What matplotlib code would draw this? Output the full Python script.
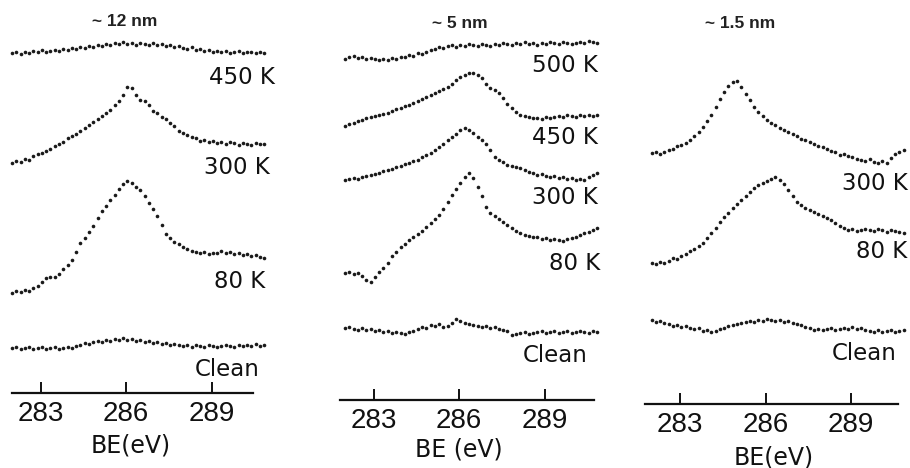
import numpy as np
import matplotlib
matplotlib.use("Agg")
import matplotlib.pyplot as plt
from matplotlib import font_manager
from matplotlib.transforms import offset_copy

# binding energy grid of the scans (eV)
be = np.round(np.arange(282.0, 290.9, 0.15), 2)

# ~12 nm film, intensity above each trace's own baseline (arb. units)
p12_450 = [0, 1, -1, 1, 0, 2, 1, 3, 1, 2,
           3, 2, 4, 3, 5, 4, 6, 5, 7, 6,
           8, 7, 9, 8, 10, 9, 11, 9, 10, 8,
           10, 9, 8, 10, 8, 9, 7, 8, 6, 7,
           5, 4, 6, 3, 4, 2, 3, 1, 2, 1,
           2, 0, 1, 2, 0, 1, 1, 0, 1, 0]
p12_300 = [0, 2, 1, 4, 3, 7, 9, 10, 12, 14,
           17, 19, 21, 25, 27, 29, 32, 35, 38, 41,
           44, 47, 50, 53, 58, 62, 68, 76, 75, 68,
           63, 62, 58, 52, 50, 46, 44, 40, 37, 32,
           30, 28, 26, 25, 22, 23, 21, 22, 20, 21,
           19, 21, 20, 18, 20, 19, 18, 20, 19, 19]
p12_80 = [0, 2, 1, 3, 2, 5, 7, 11, 15, 16,
          16, 19, 24, 28, 33, 41, 50, 55, 61, 67,
          75, 82, 87, 93, 98, 104, 109, 112, 110, 106,
          103, 97, 90, 84, 77, 68, 59, 55, 51, 49,
          46, 44, 42, 41, 40, 41, 39, 40, 40, 42,
          40, 41, 39, 40, 38, 39, 37, 38, 36, 35]
p12_clean = [0, 1, -1, 0, 1, -1, 0, 1, -1, 0,
             1, -1, 0, 1, 0, 2, 3, 5, 4, 6,
             7, 6, 8, 7, 9, 8, 10, 8, 9, 7,
             8, 6, 7, 5, 6, 4, 5, 3, 4, 3,
             2, 3, 1, 3, 2, 1, 3, 2, 1, 2,
             3, 2, 1, 3, 2, 3, 2, 4, 2, 3]

# ~5 nm film
p5_500 = [0, 2, 3, 1, 2, 0, 1, 0, -1, 0,
          -1, 1, 0, 2, 2, 4, 3, 6, 5, 7,
          9, 10, 12, 11, 13, 14, 12, 14, 13, 15,
          14, 13, 15, 14, 13, 15, 14, 16, 15, 14,
          16, 15, 17, 15, 16, 14, 16, 15, 17, 16,
          15, 17, 16, 15, 16, 17, 16, 18, 17, 16]
p5_450 = [0, 2, 3, 5, 6, 8, 9, 10, 11, 12,
          13, 15, 17, 18, 20, 21, 23, 25, 27, 29,
          31, 33, 35, 37, 39, 42, 46, 49, 51, 53,
          53, 51, 48, 42, 38, 36, 33, 28, 22, 18,
          14, 11, 10, 9, 8, 8, 7, 9, 8, 9,
          10, 9, 11, 10, 9, 11, 10, 11, 10, 11]
p5_300 = [0, 1, 2, 1, 3, 4, 5, 6, 7, 9,
          10, 11, 13, 14, 16, 17, 19, 20, 23, 25,
          27, 30, 33, 36, 40, 43, 46, 50, 52, 50,
          47, 43, 40, 36, 30, 23, 20, 18, 15, 14,
          13, 12, 10, 8, 7, 5, 6, 4, 3, 4,
          2, 3, 1, 2, 0, 1, 0, 3, 5, 7]
p5_80 = [0, 1, -1, 0, -3, -7, -9, -4, 1, 5,
         10, 17, 21, 26, 29, 33, 36, 39, 42, 46,
         50, 54, 58, 64, 71, 78, 84, 90, 96, 100,
         95, 86, 77, 66, 60, 57, 54, 51, 48, 45,
         42, 40, 38, 37, 36, 36, 34, 35, 33, 34,
         33, 32, 34, 35, 36, 38, 40, 41, 43, 45]
p5_clean = [0, 1, -1, -2, 0, -2, -1, -3, -2, -4,
            -3, -5, -4, -5, -6, -4, -3, -1, 1, 0,
            3, 2, 4, 1, 2, 5, 9, 7, 5, 4,
            3, 2, 1, 2, 0, 1, -1, -2, -3, -7,
            -6, -5, -4, -6, -5, -4, -3, -5, -4, -3,
            -5, -4, -3, -5, -4, -3, -4, -5, -3, -4]

# ~1.5 nm film
p15_300 = [0, 1, -1, 1, 3, 4, 7, 8, 10, 13,
           17, 21, 26, 32, 38, 46, 54, 61, 67, 71,
           72, 66, 59, 53, 46, 41, 37, 33, 30, 28,
           25, 23, 21, 19, 17, 14, 13, 11, 9, 7,
           6, 4, 2, 1, -2, -1, -3, -4, -6, -7,
           -8, -6, -9, -10, -8, -10, -5, -1, 1, 3]
p15_80 = [0, -1, 1, 0, 2, 5, 4, 7, 9, 12,
          14, 17, 20, 25, 30, 35, 41, 46, 50, 55,
          59, 63, 67, 71, 75, 78, 80, 82, 84, 86,
          83, 79, 73, 67, 61, 58, 55, 53, 51, 49,
          47, 45, 43, 40, 37, 35, 33, 34, 32, 33,
          34, 33, 32, 34, 33, 31, 33, 32, 31, 30]
p15_clean = [0, -2, -1, -3, -4, -6, -5, -7, -6, -8,
             -9, -8, -11, -10, -12, -11, -9, -8, -6, -5,
             -4, -3, -2, -1, -2, 0, -1, 1, 0, -1,
             0, -2, -1, -3, -4, -5, -7, -8, -10, -9,
             -10, -9, -8, -10, -9, -8, -9, -7, -9, -8,
             -10, -11, -12, -10, -12, -11, -10, -12, -11, -10]

titles = ["~ 12 nm", "~ 5 nm", "~ 1.5 nm"]
ticks = [283, 286, 289]
tick_labels = ["283", "286", "289"]
xlabels = ["BE(eV)", "BE (eV)", "BE(eV)"]

W, H = 910, 468
SCALE = 28.5  # px per eV in the scan

names = {f.name for f in font_manager.fontManager.ttflist}
narrow = "Liberation Sans Narrow" if "Liberation Sans Narrow" in names else "Liberation Sans"

fig = plt.figure(figsize=(W / 100, H / 100), dpi=100)
fig.patch.set_facecolor("white")

panels = [
    dict(p283=40.5, yax=393, xlim=(281.6, 291.4), bounds=(282.0, 290.47),
         curves=[(p12_450, 340, "450 K", (291.23, 316)),
                 (p12_300, 230, "300 K", (291.05, 225)),
                 (p12_80, 100, "80 K", (290.88, 111)),
                 (p12_clean, 45, "Clean", (290.70, 23))],
         title_xy=(125, 22), xlab_x=286.18, xlab_dy=52),
    dict(p283=373.5, yax=400, xlim=(281.6, 291.4), bounds=(281.84, 290.72),
         curves=[(p5_500, 341, "500 K", (290.88, 335)),
                 (p5_450, 274, "450 K", (290.88, 263)),
                 (p5_300, 220, "300 K", (290.88, 202)),
                 (p5_80, 127, "80 K", (290.95, 137)),
                 (p5_clean, 72, "Clean", (290.53, 45))],
         title_xy=(460, 23), xlab_x=286.0, xlab_dy=50),
    dict(p283=680, yax=404, xlim=(281.6, 291.1), bounds=(281.77, 290.65),
         curves=[(p15_300, 251, "300 K", (291.0, 221)),
                 (p15_80, 141, "80 K", (290.96, 152)),
                 (p15_clean, 84, "Clean", (290.61, 51))],
         title_xy=(740, 23), xlab_x=286.3, xlab_dy=53),
]

for i, p in enumerate(panels):
    e0, e1 = p["xlim"]
    left = p["p283"] + (e0 - 283) * SCALE
    width = (e1 - e0) * SCALE
    yax = p["yax"]
    ax = fig.add_axes([left / W, (H - yax) / H, width / W, yax / H])
    ax.set_xlim(e0, e1)
    ax.set_ylim(0, yax)
    ax.patch.set_visible(False)
    for s in ["top", "left", "right"]:
        ax.spines[s].set_visible(False)
    ax.spines["bottom"].set_bounds(*p["bounds"])
    ax.spines["bottom"].set_linewidth(1.6)
    ax.spines["bottom"].set_color("#111111")
    ax.set_yticks([])
    ax.set_xticks(ticks)
    ax.set_xticklabels(tick_labels, family=narrow, fontsize=20)
    ax.tick_params(axis="x", direction="in", length=8, width=1.4,
                   pad=6, colors="#111111")

    for vals, off, label, (lx, ly) in p["curves"]:
        ax.plot(be, np.array(vals) + off, ls="none", marker="o", ms=2.6,
                mec="none", color="#1a1a1a", clip_on=False)
        ax.text(lx, ly, label, ha="right", va="center", fontsize=16.5,
                color="#111111")

    ax.set_xlabel(xlabels[i], fontsize=17, color="#111111")
    tr = offset_copy(ax.get_xaxis_transform(), fig=fig, y=-p["xlab_dy"], units="dots")
    ax.xaxis.set_label_coords(p["xlab_x"], 0, transform=tr)
    ax.xaxis.label.set_va("center")

    tx, ty = p["title_xy"]
    fig.text(tx / W, 1 - ty / H, titles[i], ha="center", va="center",
             fontsize=12.5, fontweight="bold", family="Liberation Sans",
             color="#222222")

fig.savefig("out.png", dpi=100, facecolor="white")
